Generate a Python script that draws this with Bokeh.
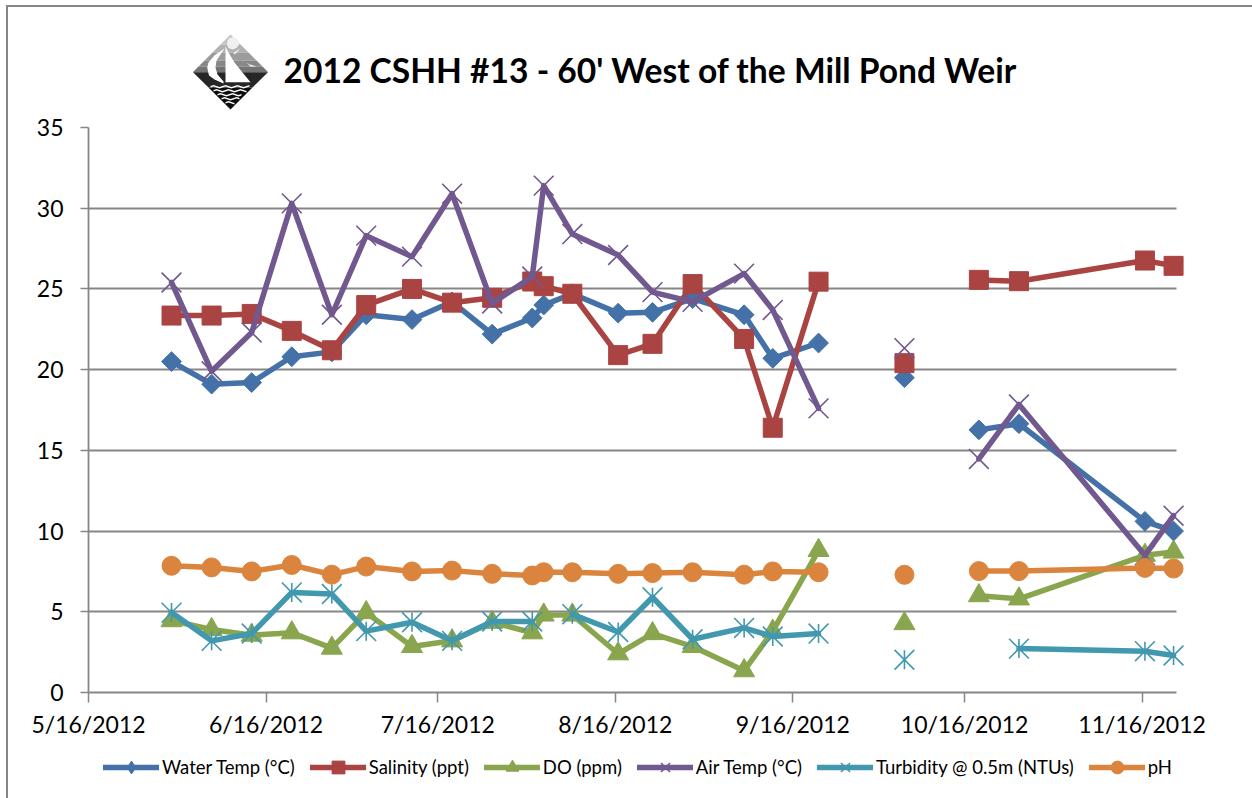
import pandas as pd
from bokeh.embed import file_html
from bokeh.layouts import column
from bokeh.resources import INLINE
from bokeh.plotting import figure
from bokeh.models import (ColumnDataSource, FixedTicker, Label, Legend, LegendItem,
                          PolyAnnotation)

nan = float("nan")

TITLE = "2012 CSHH #13 - 60' West of the Mill Pond Weir"
dates = ["2012-05-30", "2012-06-06", "2012-06-13", "2012-06-20", "2012-06-27", "2012-07-03",
         "2012-07-11", "2012-07-18", "2012-07-25", "2012-08-01", "2012-08-03", "2012-08-08",
         "2012-08-16", "2012-08-22", "2012-08-29", "2012-09-07", "2012-09-12", "2012-09-20",
         "2012-09-28", "2012-10-05", "2012-10-12", "2012-10-18", "2012-10-25", "2012-11-16",
         "2012-11-21"]
water = [20.5, 19.1, 19.2, 20.8, 21.1, 23.4, 23.1, 24.2, 22.2, 23.2, 24.0, 24.7, 23.5, 23.55,
         24.4, 23.4, 20.7, 21.65, nan, 19.5, nan, 16.27, 16.65, 10.6, 10.0]
salinity = [23.35, 23.35, 23.45, 22.4, 21.2, 24.0, 25.0, 24.15, 24.45, 25.46, 25.17, 24.7, 20.9,
            21.6, 25.3, 21.9, 16.4, 25.45, nan, 20.4, nan, 25.56, 25.48, 26.76, 26.43]
do = [4.45, 3.9, 3.55, 3.7, 2.75, 4.95, 2.85, 3.2, 4.35, 3.7, 4.8, 4.8, 2.4, 3.65, 2.85, 1.35,
      3.8, 8.8, nan, 4.27, nan, 6.0, 5.8, 8.5, 8.7]
air = [25.4, 19.9, 22.3, 30.3, 23.4, 28.3, 27.0, 30.9, 24.1, 25.77, 31.4, 28.4, 27.1, 24.8, 24.2,
       25.95, 23.7, 17.6, nan, 21.33, nan, 14.47, 17.84, 8.5, 10.95]
turbidity = [4.95, 3.2, 3.65, 6.2, 6.1, 3.8, 4.35, 3.2, 4.4, 4.4, nan, 4.85, 3.75, 5.9, 3.3, 4.0,
             3.47, 3.65, nan, 2.03, nan, nan, 2.72, 2.56, 2.29]
ph = [7.85, 7.75, 7.5, 7.9, 7.3, 7.8, 7.5, 7.55, 7.35, 7.25, 7.45, 7.45, 7.35, 7.4, 7.45, 7.3,
      7.5, 7.45, nan, 7.29, nan, 7.52, 7.52, 7.72, 7.68]
tick_dates = ["2012-05-16", "2012-06-16", "2012-07-16", "2012-08-16", "2012-09-16", "2012-10-16",
              "2012-11-16"]
tick_labels = ["5/16/2012", "6/16/2012", "7/16/2012", "8/16/2012", "9/16/2012", "10/16/2012",
               "11/16/2012"]
y_ticks = [0, 5, 10, 15, 20, 25, 30, 35]

names = ["Water Temp (°C)", "Salinity (ppt)", "DO (ppm)", "Air Temp (°C)",
         "Turbidity @ 0.5m (NTUs)", "pH"]
colors = ["#4472A8", "#A94442", "#89A54E", "#71588F", "#4198AF", "#DB843D"]
GRAY = "#868686"
FONT = "Lato"

start = pd.Timestamp(tick_dates[0])
day = [(pd.Timestamp(d) - start).days + 0.5 for d in dates]
tick_days = [(pd.Timestamp(d) - start).days for d in tick_dates]

# window layout: the sheet's border takes 8px at the left and 7px at the top
OX, OY = 8, 7
W = 1252 - OX
HEAD_H, MAIN_H, LEG_H = 105, 636, 50
AXIS_END = 190
VIEW_END = 196.3   # slightly wider frame so the last markers are not cut

h = figure(width=W, height=HEAD_H, output_backend="svg", toolbar_location=None,
           x_range=(0, 1), y_range=(0, 1), min_border=0, outline_line_color=None,
           x_axis_location=None, y_axis_location=None, frame_align=False,
           background_fill_color="white", border_fill_color="white")
h.grid.visible = False
h.add_layout(Label(x=283 - OX, y=HEAD_H - (69 - OY), x_units="screen", y_units="screen",
                   text=TITLE, text_font=FONT, text_font_style="bold",
                   text_font_size="33.6px", text_color="black", text_baseline="middle"))

p = figure(width=W, height=MAIN_H, output_backend="svg", toolbar_location=None,
           x_range=(0, VIEW_END), y_range=(0, 35), frame_align=False,
           min_border_left=88 - OX, min_border_right=40, min_border_top=15,
           min_border_bottom=56,
           background_fill_color="white", border_fill_color="white", outline_line_color=None)

p.xgrid.visible = False
p.ygrid.ticker = FixedTicker(ticks=y_ticks)
p.ygrid.grid_line_color = GRAY
p.ygrid.grid_line_width = 1.8
p.ygrid.cross_bounds = (0, AXIS_END)

p.xaxis.ticker = FixedTicker(ticks=tick_days)
p.xaxis.bounds = (0, AXIS_END)
p.xaxis.major_label_overrides = dict(zip(tick_days, tick_labels))
p.yaxis.ticker = FixedTicker(ticks=y_ticks)
for ax in (p.xaxis[0], p.yaxis[0]):
    ax.axis_line_color = GRAY
    ax.axis_line_width = 1.8
    ax.major_tick_line_color = GRAY
    ax.major_tick_line_width = 1.5
    ax.major_tick_in = 0
    ax.minor_tick_line_color = None
    ax.major_label_text_font = FONT
    ax.major_label_text_font_size = "23px"
    ax.major_label_text_color = "black"
p.xaxis.major_tick_out = 10
p.yaxis.major_tick_out = 8
p.xaxis.major_label_standoff = 7
p.yaxis.major_label_standoff = 17

src = ColumnDataSource(dict(x=day, water=water, salinity=salinity, do=do, air=air,
                            turbidity=turbidity, ph=ph))

LW = 5.5
THIN = 1.6

q = figure(width=W, height=LEG_H, output_backend="svg", toolbar_location=None,
           x_range=(0, 1), y_range=(0, 1), min_border=0, outline_line_color=None,
           x_axis_location=None, y_axis_location=None, frame_align=False,
           background_fill_color="white", border_fill_color="white")
q.grid.visible = False
empty = ColumnDataSource(dict(x=[nan], y=[nan]))


def series(col, color, marks, legend_marks):
    p.line("x", col, source=src, line_color=color, line_width=LW,
           line_cap="round", line_join="round")
    for m in marks:
        p.scatter("x", col, source=src, **m, fill_color=color, line_color=color)
    leg = [q.line("x", "y", source=empty, line_color=color, line_width=LW, line_cap="round")]
    for m in legend_marks:
        leg.append(q.scatter("x", "y", source=empty, **m, fill_color=color, line_color=color))
    return leg


STAR = [dict(marker="x", size=28, line_width=THIN),
        dict(marker="dash", size=19, angle=1.5708, line_width=THIN)]
STAR_L = [dict(marker="x", size=15, line_width=THIN),
          dict(marker="dash", size=13, angle=1.5708, line_width=THIN)]

legs = [
    series("water", colors[0], [dict(marker="square", size=14, angle=0.7854, line_width=1)],
           [dict(marker="diamond", size=12, line_width=1)]),
    series("salinity", colors[1], [dict(marker="square", size=19, line_width=1)],
           [dict(marker="square", size=12, line_width=1)]),
    series("do", colors[2], [dict(marker="triangle", size=21, line_width=1)],
           [dict(marker="triangle", size=14, line_width=1)]),
    series("air", colors[3], [dict(marker="x", size=28, line_width=THIN)],
           [dict(marker="x", size=17, line_width=THIN)]),
    series("turbidity", colors[4], STAR, STAR_L),
    series("ph", colors[5], [dict(marker="circle", size=19, line_width=1)],
           [dict(marker="circle", size=12, line_width=1)]),
]

legend = Legend(items=[LegendItem(label=n, renderers=r) for n, r in zip(names, legs)],
                orientation="horizontal", location=(103 - OX, 15), glyph_width=56, glyph_height=32,
                label_standoff=3, spacing=15, padding=0, margin=0, border_line_color=None,
                background_fill_alpha=0, label_text_font=FONT, label_text_font_size="18.5px",
                label_text_color="black")
q.add_layout(legend, "center")


# logo: a decoration, given in window pixels
def poly(xs, ys, fill):
    h.add_layout(PolyAnnotation(xs=[x - OX for x in xs], ys=[HEAD_H - (y - OY) for y in ys],
                                xs_units="screen", ys_units="screen",
                                fill_color=fill, fill_alpha=1, line_color=None))


CX, TOP, MID, BOT = 230, 34, 71.7, 109
bands = [(34, 44, "#c4c4c4"), (44, 52, "#b2b2b2"), (52, 60, "#9c9c9c"), (60, 66, "#888888"),
         (66, 71.7, "#747474")]
for y0, y1, c in bands:
    w0, w1 = y0 - TOP, y1 - TOP
    poly([CX - w0, CX + w0, CX + w1, CX - w1], [y0, y0, y1, y1], c)
poly([CX - 37.5, CX + 37.5, CX + 22, CX - 22], [MID, MID, 87, 87], "#262626")
poly([CX - 22, CX + 22, CX, CX], [87, 87, BOT, BOT], "#0c0c0c")
poly([232, 236, 238.5, 238.5, 236, 232, 228, 226.5, 227, 229],
     [36.8, 37.8, 41, 44, 47.5, 49, 47.5, 44, 40, 37.5], "#f0f0f0")
poly([225, 228, 234, 242, 250, 225], [46, 52, 62, 72, 81.7, 81.7], "#ffffff")
poly([224, 214, 208, 206.7, 208.5, 214, 223, 223, 217, 215, 216, 224],
     [48, 55, 62, 67, 75, 79, 83, 81, 74, 67, 60, 48], "#ffffff")
poly([233, 240, 238, 234], [52.5, 48, 50, 54], "#ffffff")
poly([246, 249, 256, 250], [62, 64, 66, 66], "#ffffff")
wave_y = [85.5, 89.5, 93.5, 97.5, 101.5]
wave_half = [20, 17, 13, 9, 5]
wiggle = [0, -1, 0, 1]
for y, hw in zip(wave_y, wave_half):
    xs = list(range(CX - hw, CX + hw + 1, 3))
    top = [y + wiggle[i % 4] for i in range(len(xs))]
    poly(xs + xs[::-1], top + [t + 1.6 for t in top[::-1]], "#ffffff")

page = column(h, p, q, spacing=0,
              styles={"margin": "5px 0 0 6px", "border-left": f"2px solid {GRAY}",
                      "border-top": f"2px solid {GRAY}"})
open("out.html", "w").write(file_html(page, INLINE))
